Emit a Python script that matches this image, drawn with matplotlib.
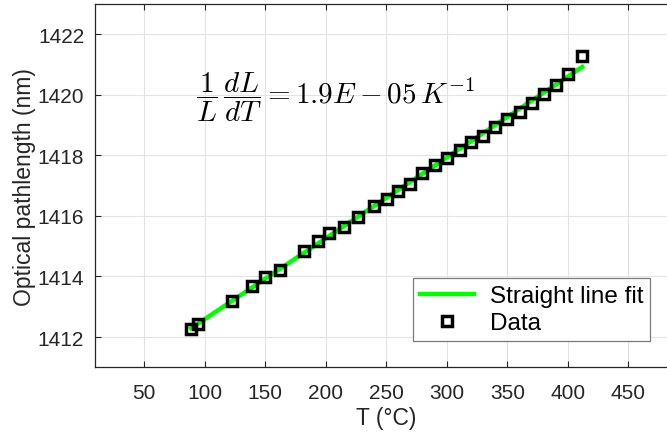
import numpy as np
import matplotlib.pyplot as plt

temp = [88.6, 94.1, 122.7, 139.3, 149.8, 161.9, 182.2, 193.3, 202.6, 215.1,
        226.9, 239.8, 250.4, 259.7, 269.3, 279.8, 290.6, 300.2, 310.7, 320.1,
        330.0, 340.2, 349.9, 360.1, 370.0, 380.2, 390.4, 400.0, 411.9]
opl = [1412.27, 1412.44, 1413.19, 1413.70, 1413.98, 1414.21, 1414.84, 1415.17,
       1415.42, 1415.63, 1415.95, 1416.33, 1416.57, 1416.82, 1417.07, 1417.41,
       1417.69, 1417.93, 1418.18, 1418.43, 1418.65, 1418.94, 1419.20, 1419.44,
       1419.73, 1420.02, 1420.32, 1420.69, 1421.28]

x_ticks = [50, 100, 150, 200, 250, 300, 350, 400, 450]
y_ticks = [1412, 1414, 1416, 1418, 1420, 1422]

plt.rcParams['font.family'] = ['Liberation Sans', 'DejaVu Sans']
plt.rcParams['mathtext.fontset'] = 'cm'

fig = plt.figure(figsize=(6.67, 4.35), dpi=100)
ax = fig.add_axes([0.1429, 0.1533, 0.8717, 0.8352])

# straight line fit
t = np.array(temp)
p = np.polyfit(t, np.array(opl), 1)
tf = np.array([t.min(), t.max()])
ax.plot(tf, np.polyval(p, tf), color='#00ff00', lw=3.2, label='Straight line fit')
ax.plot(temp, opl, ls='none', marker='s', ms=7, mew=2.5, mec='black',
        mfc='none', label='Data')

ax.set_xlim(9.5, 490)
ax.set_ylim(1411, 1423)
ax.set_xticks(x_ticks)
ax.set_yticks(y_ticks)
ax.grid(True, color='#e3e3e3', lw=0.8)
ax.set_axisbelow(True)

dark = '#262626'
for s in ax.spines.values():
    s.set_color(dark)
    s.set_linewidth(0.9)
ax.tick_params(direction='in', length=4.5, width=0.8, colors=dark,
               labelsize=15, top=True, right=True)
ax.tick_params(axis='x', pad=11)
ax.tick_params(axis='y', pad=8)

ax.set_xlabel('T (°C)', fontsize=16.5, color=dark, labelpad=3)
ax.set_ylabel('Optical pathlength (nm)', fontsize=16.5, color=dark, labelpad=1)

ax.text(92.7, 1419.96, r'$\dfrac{1}{L}\,\dfrac{dL}{dT} = 1.9E - 05\,K^{-1}$',
        fontsize=21, ha='left', va='center', color='black')

leg = ax.legend(loc='upper left', bbox_to_anchor=(413 / 667, 1 - 279 / 435),
                bbox_transform=fig.transFigure, borderaxespad=0, fontsize=17.5,
                fancybox=False, framealpha=1, edgecolor='#7a7a7a',
                handlelength=2.2, handletextpad=0.65, borderpad=0.3,
                labelspacing=0.2)
leg.get_frame().set_linewidth(0.9)

fig.savefig('out.png', dpi=100)
